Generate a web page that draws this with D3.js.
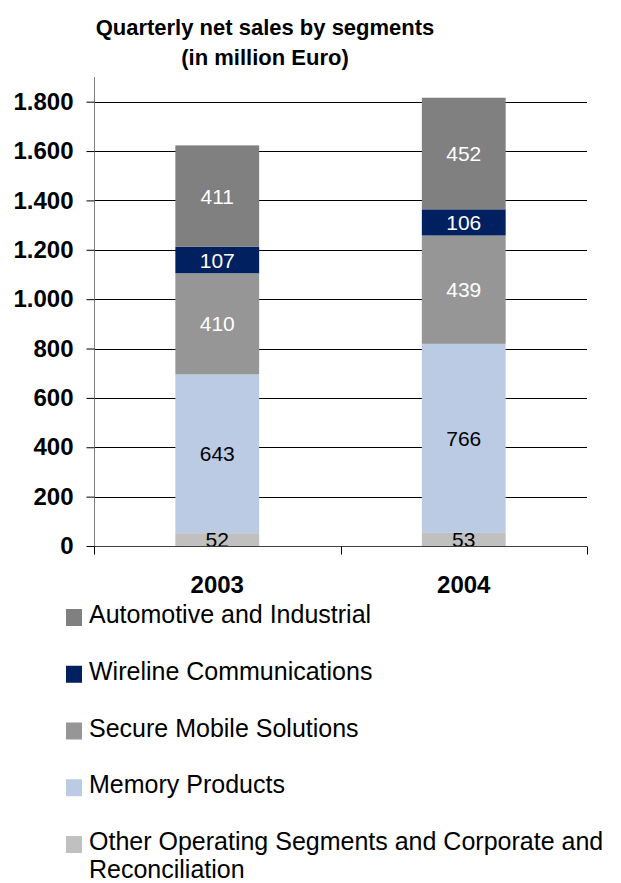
<!DOCTYPE html>
<html>
<head>
<meta charset="utf-8">
<script src="https://cdn.jsdelivr.net/npm/d3@7"></script>
<style>
  body { margin: 0; background: #fff; }
  svg { display: block; font-family: "Liberation Sans", Arial, sans-serif; }
</style>
</head>
<body>
<svg id="chart" width="621" height="883"></svg>
<script>
// data
const years = ["2003", "2004"];
const segments = ["Other Operating Segments and Corporate and Reconciliation", "Memory Products",
    "Secure Mobile Solutions", "Wireline Communications", "Automotive and Industrial"];
const otherSeg = [52, 53];
const memory = [643, 766];
const secureMobile = [410, 439];
const wireline = [107, 106];
const automotive = [411, 452];
const yTicks = [0, 200, 400, 600, 800, 1000, 1200, 1400, 1600, 1800];

const colors = ["#c0c0c0", "#bccbe4", "#969696", "#002060", "#808080"];
const labelColors = ["#000", "#000", "#fff", "#fff", "#fff"];
const legendOrder = [4, 3, 2, 1, 0];

const rows = years.map((yr, i) => ({
    year: yr, s0: otherSeg[i], s1: memory[i], s2: secureMobile[i], s3: wireline[i], s4: automotive[i]
}));
const keys = ["s0", "s1", "s2", "s3", "s4"];
const stacked = d3.stack().keys(keys)(rows);

const svg = d3.select("#chart");
const plotLeft = 94, plotRight = 587, plotBottom = 546, plotTop = 77;

const x = d3.scaleBand().domain(years).range([plotLeft, plotRight]).paddingInner(0.66).paddingOuter(0.33);
const y = d3.scaleLinear().domain([0, 1900]).range([plotBottom, plotTop]);

// title
svg.append("text")
    .attr("x", 265).attr("y", 35)
    .attr("text-anchor", "middle")
    .style("font-size", "22px").style("font-weight", "bold")
    .text("Quarterly net sales by segments");
svg.append("text")
    .attr("x", 265).attr("y", 65)
    .attr("text-anchor", "middle")
    .style("font-size", "22px").style("font-weight", "bold")
    .text("(in million Euro)");

// gridlines
svg.append("g")
    .selectAll("line")
    .data(yTicks.filter(d => d > 0))
    .join("line")
    .attr("x1", plotLeft).attr("x2", plotRight)
    .attr("y1", d => Math.round(y(d)) + 0.5).attr("y2", d => Math.round(y(d)) + 0.5)
    .attr("stroke", "#000").attr("stroke-width", 1);

// bars
const layer = svg.append("g")
    .selectAll("g")
    .data(stacked)
    .join("g")
    .attr("fill", (d, i) => colors[i]);

layer.selectAll("rect")
    .data(d => d)
    .join("rect")
    .attr("x", d => x(d.data.year))
    .attr("width", x.bandwidth())
    .attr("y", d => y(d[1]))
    .attr("height", d => y(d[0]) - y(d[1]));

// value labels
svg.append("g")
    .selectAll("g")
    .data(stacked)
    .join("g")
    .attr("fill", (d, i) => labelColors[i])
    .selectAll("text")
    .data(d => d)
    .join("text")
    .attr("x", d => x(d.data.year) + x.bandwidth() / 2)
    .attr("y", d => (y(d[0]) + y(d[1])) / 2)
    .attr("dy", "0.36em")
    .attr("text-anchor", "middle")
    .style("font-size", "21px")
    .text(d => d[1] - d[0]);

// y axis
const yAxis = svg.append("g")
    .attr("transform", "translate(" + (plotLeft + 0.5) + ",0)")
    .call(d3.axisLeft(y).tickValues(yTicks).tickSize(8).tickPadding(13)
        .tickFormat(d => d3.format(",")(d).replace(/,/g, ".")));
yAxis.select(".domain").attr("stroke", "#808080").attr("d", "M0," + plotTop + "V" + (plotBottom + 8));
yAxis.selectAll(".tick line").attr("stroke", "#000");
yAxis.selectAll(".tick text")
    .style("font-size", "24px").style("font-weight", "bold")
    .style("font-family", "'Liberation Sans', Arial, sans-serif").attr("fill", "#000");

// x axis
const xAxis = svg.append("g")
    .attr("transform", "translate(0," + (plotBottom + 0.5) + ")")
    .call(d3.axisBottom(x).tickSize(0).tickPadding(0));
xAxis.select(".domain").attr("stroke", "#404040").attr("d", "M" + plotLeft + ",0H" + plotRight);
xAxis.selectAll(".tick text")
    .attr("y", 46)
    .attr("dy", 0)
    .style("font-size", "24px").style("font-weight", "bold")
    .style("font-family", "'Liberation Sans', Arial, sans-serif").attr("fill", "#000");

// category separators on the x axis
const sepX = [plotLeft, x(years[1]) - x.step() * x.paddingInner() / 2, plotRight];
xAxis.append("g")
    .selectAll("line")
    .data(sepX)
    .join("line")
    .attr("x1", d => Math.round(d) + 0.5)
    .attr("x2", d => Math.round(d) + 0.5)
    .attr("y1", 0).attr("y2", 8)
    .attr("stroke", "#000");

// legend
const legend = svg.append("g")
    .selectAll("g")
    .data(legendOrder)
    .join("g")
    .attr("transform", (d, i) => "translate(66," + (609 + i * 56.75) + ")");

legend.append("rect")
    .attr("width", 16).attr("height", 17)
    .attr("fill", d => colors[d]);

legend.append("text")
    .attr("x", 23)
    .attr("y", 14)
    .style("font-size", "25px")
    .attr("fill", "#000")
    .each(function (d) {
        const t = d3.select(this);
        if (d === 0) {
            t.append("tspan").attr("x", 23).text("Other Operating Segments and Corporate and");
            t.append("tspan").attr("x", 23).attr("dy", 28).text("Reconciliation");
        } else {
            t.text(segments[d]);
        }
    });
</script>
</body>
</html>
